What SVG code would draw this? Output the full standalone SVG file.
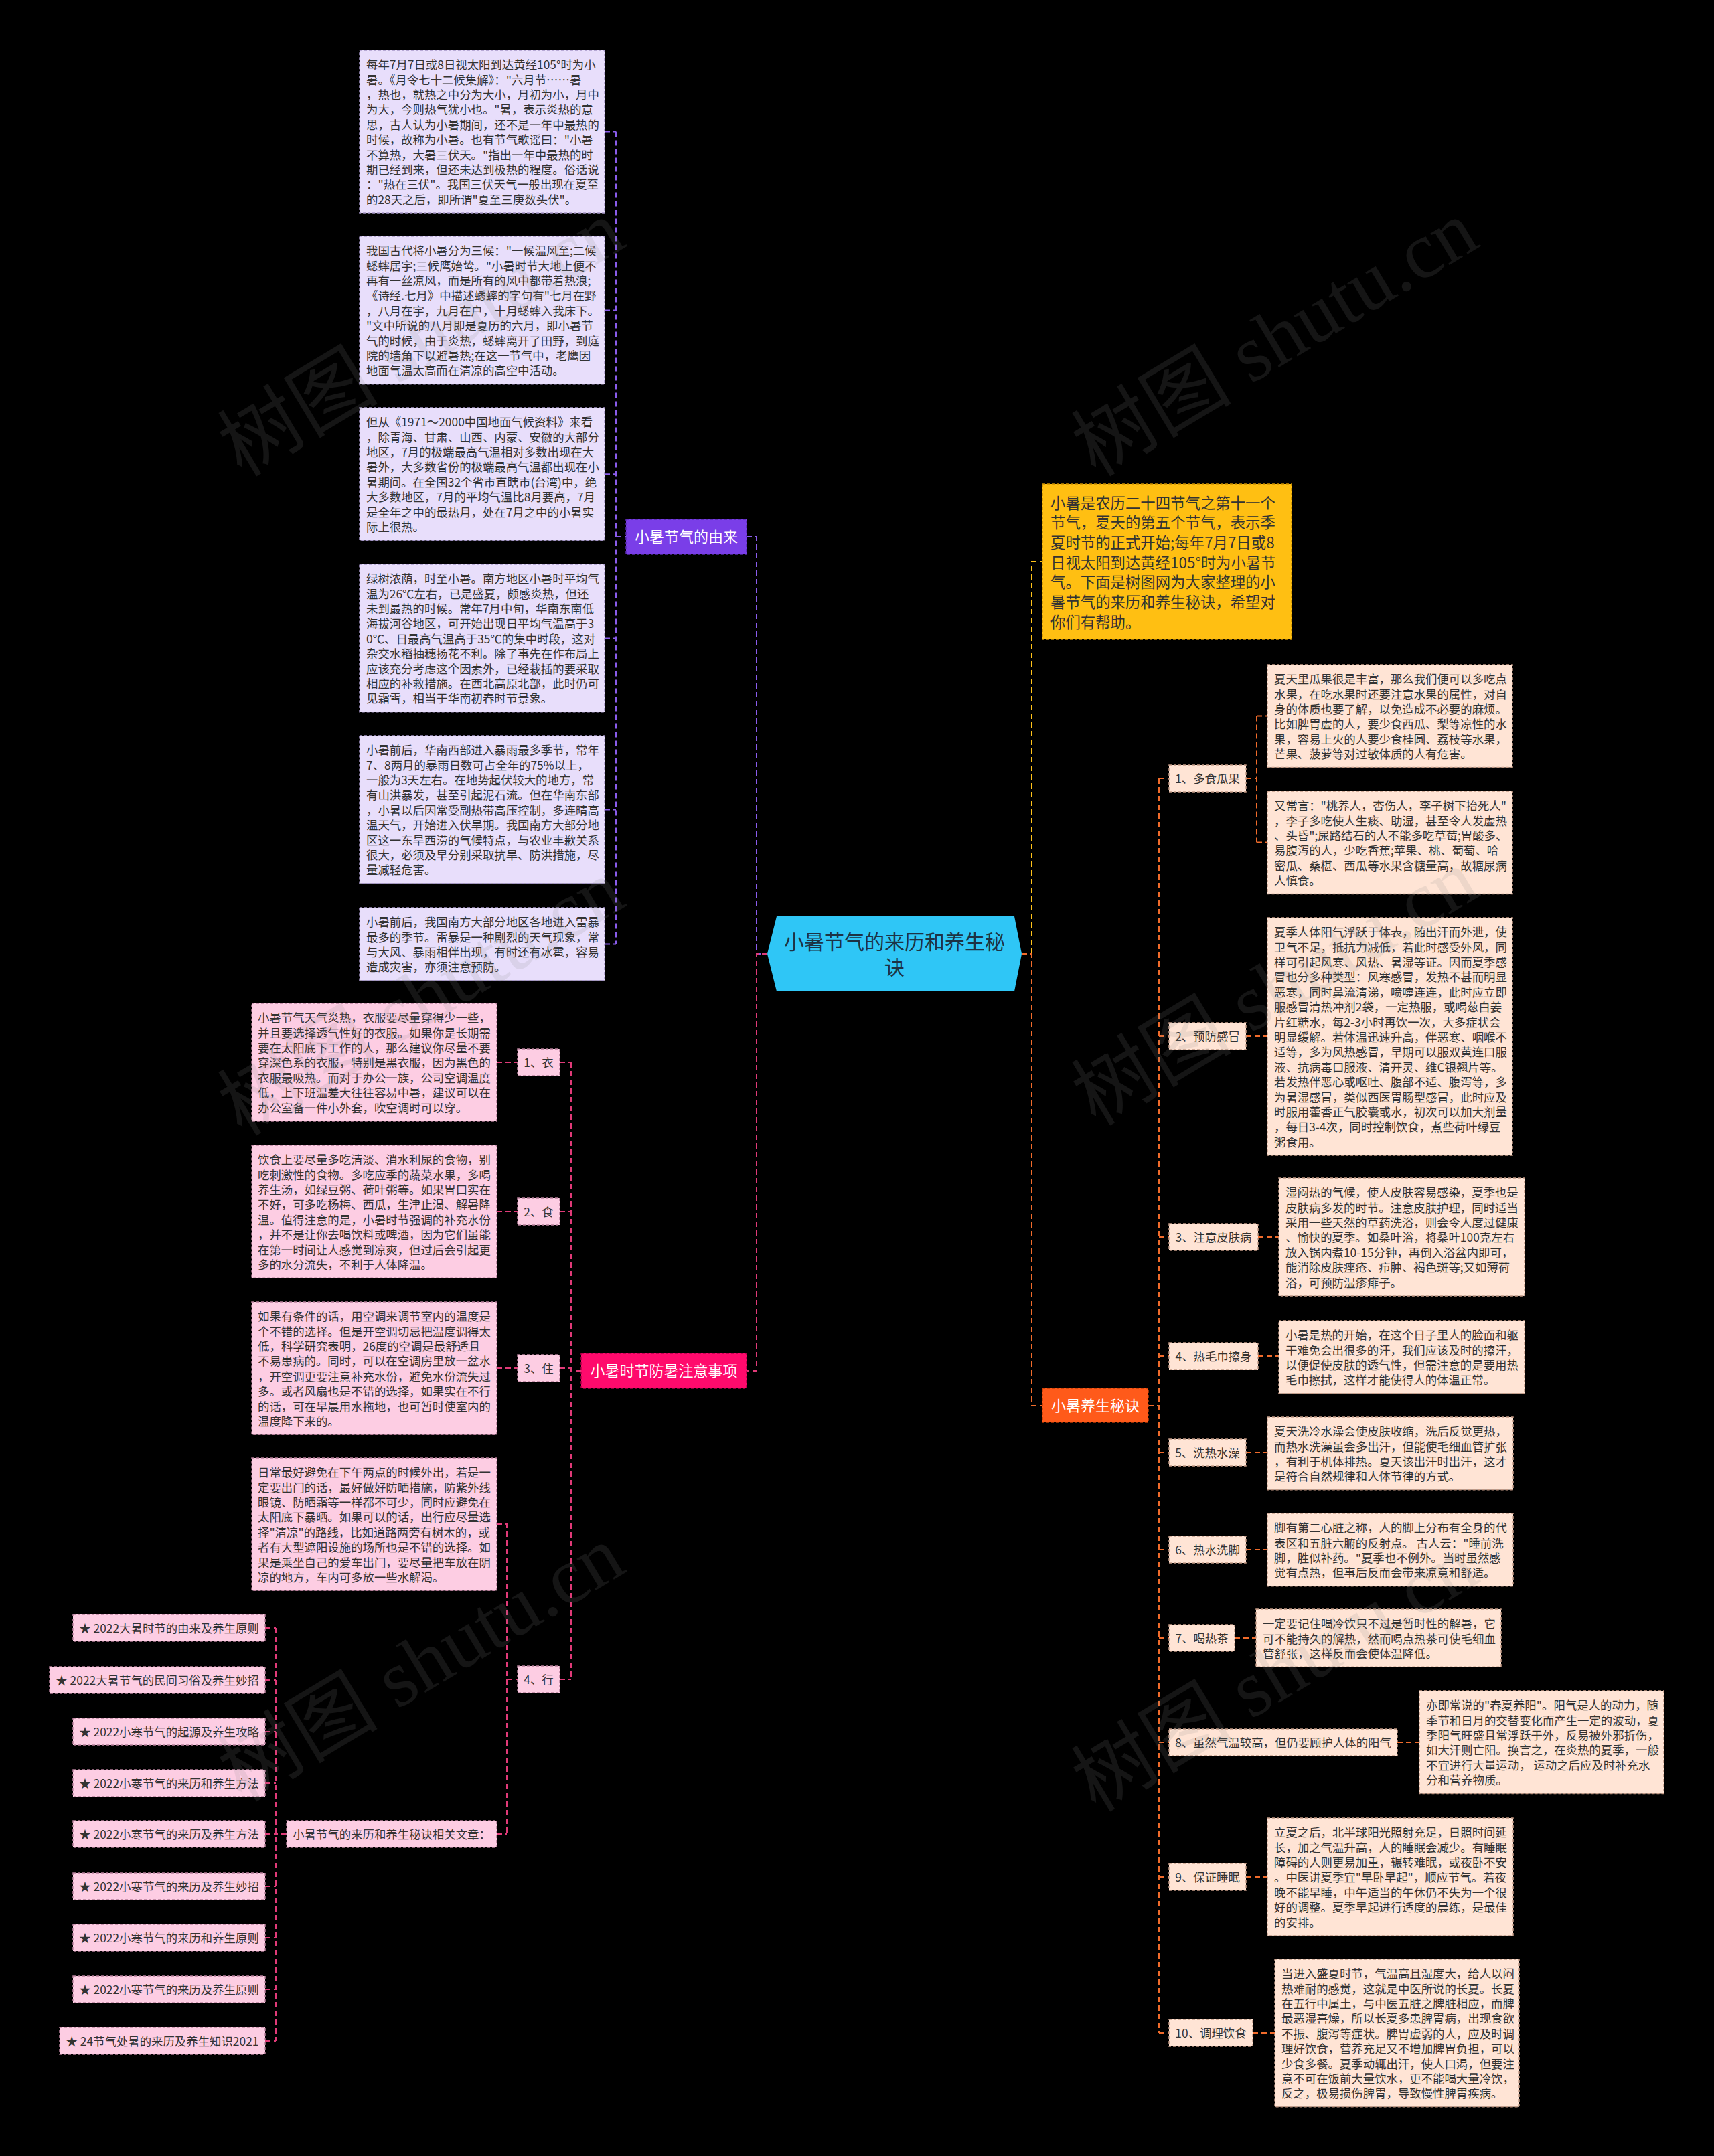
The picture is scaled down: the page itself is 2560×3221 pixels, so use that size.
<svg xmlns="http://www.w3.org/2000/svg" width="2560" height="3221" viewBox="0 0 2560 3221">
<style>
text{font-family:"Noto Sans CJK SC","Noto Sans",sans-serif}
.t{font-size:17.4px;fill:#333}
.it{font-size:17.4px;fill:#333;text-anchor:middle}
.lb{font-size:22px;fill:#fff;text-anchor:middle}
.pu{fill:#E8DEFB;stroke:#A596C8;stroke-width:1.5;stroke-dasharray:4 3}
.pk{fill:#FDCDE3;stroke:#B8809C;stroke-width:1.5;stroke-dasharray:4 3}
.pe{fill:#FFE4D5;stroke:#C49A86;stroke-width:1.5;stroke-dasharray:4 3}
.c{fill:none;stroke-width:2;stroke-dasharray:8 5}
.cp{stroke:#8A5CEB}.ck{stroke:#E03A78}.co{stroke:#F06B2B}.cy{stroke:#FFC21A}
.wm{font-family:"Liberation Serif","Noto Sans CJK SC",serif;font-size:120px;fill:#8a8a8a;opacity:.15;text-anchor:middle}
</style>
<rect width="2560" height="3221" fill="#000"/>

<g id="connectors">
<path class="c cp" d="M903 196.5H920M903 463.4H920M903 708.2H920M903 953.4H920M903 1209.4H920M903 1410.4H920M920 196.5V1410.4M920 802H935M1115 802H1130V1425H1146"/>
<path class="c ck" d="M1146 1425H1130V2048H1115M868 2048H853M853 1587V2509M836 1587H853M836 1810H853M836 2044H853M836 2509H853M742 1587H773M742 1810H773M742 2044H773M742 2277H757V2740M757 2509H773M742 2740H757M428 2740H412M412 2432V3049M396 2432H412M396 2510H412M396 2587H412M396 2664H412M396 2740H412M396 2818H412M396 2895H412M396 2972H412M396 3049H412"/>
<path class="c cy" d="M1541 1425V839H1557"/>
<path class="c co" d="M1526 1425H1541V2100H1557M1715 2100H1731M1731 1163V3037M1731 1163H1746M1731 1548H1746M1731 1848H1746M1731 2026H1746M1731 2170H1746M1731 2315H1746M1731 2447H1746M1731 2603H1746M1731 2804H1746M1731 3037H1746M1861 1163H1877M1877 1069.5V1258.5M1877 1069.5H1893M1877 1258.5H1893M1861 1548H1893M1879 1848H1910M1879 2026H1910M1861 2170H1893M1861 2315H1893M1844 2447H1876M2087 2603H2120M1861 2804H1893M1871 3037H1904"/>
</g>

<g id="center">
<polygon points="1146,1425 1160,1369 1515,1369 1526,1425 1515,1481 1160,1481" fill="#2FC6F6"/>
<text x="1336" y="1418" font-size="30" fill="#1d3344" text-anchor="middle">小暑节气的来历和养生秘</text>
<text x="1336" y="1456" font-size="30" fill="#1d3344" text-anchor="middle">诀</text>
</g>

<g id="origin-label">
<rect x="935" y="776" width="180" height="52" fill="#7A3EE8" stroke="#5a2cb0" stroke-width="1.5" stroke-dasharray="4 3"/>
<text class="lb" x="1025" y="810">小暑节气的由来</text>
</g>
<g id="o1"><rect class="pu" x="537" y="75" width="366" height="243.1"/>
<text class="t" x="547" y="103.1"><tspan x="547">每年7月7日或8日视太阳到达黄经105°时为小</tspan><tspan x="547" dy="22.4">暑。《月令七十二候集解》："六月节……暑</tspan><tspan x="547" dy="22.4">，热也，就热之中分为大小，月初为小，月中</tspan><tspan x="547" dy="22.4">为大，今则热气犹小也。"暑，表示炎热的意</tspan><tspan x="547" dy="22.4">思，古人认为小暑期间，还不是一年中最热的</tspan><tspan x="547" dy="22.4">时候，故称为小暑。也有节气歌谣曰："小暑</tspan><tspan x="547" dy="22.4">不算热，大暑三伏天。"指出一年中最热的时</tspan><tspan x="547" dy="22.4">期已经到来，但还未达到极热的程度。俗话说</tspan><tspan x="547" dy="22.4">："热在三伏"。我国三伏天气一般出现在夏至</tspan><tspan x="547" dy="22.4">的28天之后，即所谓"夏至三庚数头伏"。</tspan></text></g>
<g id="o2"><rect class="pu" x="537" y="353" width="366" height="220.7"/>
<text class="t" x="547" y="381.1"><tspan x="547">我国古代将小暑分为三候："一候温风至;二候</tspan><tspan x="547" dy="22.4">蟋蟀居宇;三候鹰始鸷。"小暑时节大地上便不</tspan><tspan x="547" dy="22.4">再有一丝凉风，而是所有的风中都带着热浪;</tspan><tspan x="547" dy="22.4">《诗经.七月》中描述蟋蟀的字句有"七月在野</tspan><tspan x="547" dy="22.4">，八月在宇，九月在户，十月蟋蟀入我床下。</tspan><tspan x="547" dy="22.4">"文中所说的八月即是夏历的六月，即小暑节</tspan><tspan x="547" dy="22.4">气的时候，由于炎热，蟋蟀离开了田野，到庭</tspan><tspan x="547" dy="22.4">院的墙角下以避暑热;在这一节气中，老鹰因</tspan><tspan x="547" dy="22.4">地面气温太高而在清凉的高空中活动。</tspan></text></g>
<g id="o3"><rect class="pu" x="537" y="609" width="366" height="198.3"/>
<text class="t" x="547" y="637.1"><tspan x="547">但从《1971～2000中国地面气候资料》来看</tspan><tspan x="547" dy="22.4">，除青海、甘肃、山西、内蒙、安徽的大部分</tspan><tspan x="547" dy="22.4">地区，7月的极端最高气温相对多数出现在大</tspan><tspan x="547" dy="22.4">暑外，大多数省份的极端最高气温都出现在小</tspan><tspan x="547" dy="22.4">暑期间。在全国32个省市直瞎市(台湾)中，绝</tspan><tspan x="547" dy="22.4">大多数地区，7月的平均气温比8月要高，7月</tspan><tspan x="547" dy="22.4">是全年之中的最热月，处在7月之中的小暑实</tspan><tspan x="547" dy="22.4">际上很热。</tspan></text></g>
<g id="o4"><rect class="pu" x="537" y="843" width="366" height="220.7"/>
<text class="t" x="547" y="871.1"><tspan x="547">绿树浓荫，时至小暑。南方地区小暑时平均气</tspan><tspan x="547" dy="22.4">温为26℃左右，已是盛夏，颇感炎热，但还</tspan><tspan x="547" dy="22.4">未到最热的时候。常年7月中旬，华南东南低</tspan><tspan x="547" dy="22.4">海拔河谷地区，可开始出现日平均气温高于3</tspan><tspan x="547" dy="22.4">0℃、日最高气温高于35℃的集中时段，这对</tspan><tspan x="547" dy="22.4">杂交水稻抽穗扬花不利。除了事先在作布局上</tspan><tspan x="547" dy="22.4">应该充分考虑这个因素外，已经栽插的要采取</tspan><tspan x="547" dy="22.4">相应的补救措施。在西北高原北部，此时仍可</tspan><tspan x="547" dy="22.4">见霜雪，相当于华南初春时节景象。</tspan></text></g>
<g id="o5"><rect class="pu" x="537" y="1099" width="366" height="220.7"/>
<text class="t" x="547" y="1127.1"><tspan x="547">小暑前后，华南西部进入暴雨最多季节，常年</tspan><tspan x="547" dy="22.4">7、8两月的暴雨日数可占全年的75%以上，</tspan><tspan x="547" dy="22.4">一般为3天左右。在地势起伏较大的地方，常</tspan><tspan x="547" dy="22.4">有山洪暴发，甚至引起泥石流。但在华南东部</tspan><tspan x="547" dy="22.4">，小暑以后因常受副热带高压控制，多连晴高</tspan><tspan x="547" dy="22.4">温天气，开始进入伏旱期。我国南方大部分地</tspan><tspan x="547" dy="22.4">区这一东旱西涝的气候特点，与农业丰歉关系</tspan><tspan x="547" dy="22.4">很大，必须及早分别采取抗旱、防洪措施，尽</tspan><tspan x="547" dy="22.4">量减轻危害。</tspan></text></g>
<g id="o6"><rect class="pu" x="537" y="1356" width="366" height="108.7"/>
<text class="t" x="547" y="1384.1"><tspan x="547">小暑前后，我国南方大部分地区各地进入雷暴</tspan><tspan x="547" dy="22.4">最多的季节。雷暴是一种剧烈的天气现象，常</tspan><tspan x="547" dy="22.4">与大风、暴雨相伴出现，有时还有冰雹，容易</tspan><tspan x="547" dy="22.4">造成灾害，亦须注意预防。</tspan></text></g>

<g id="notes-label">
<rect x="868" y="2022" width="247" height="52" fill="#FF0A6C" stroke="#b00048" stroke-width="1.5" stroke-dasharray="4 3"/>
<text class="lb" x="991.5" y="2056">小暑时节防暑注意事项</text>
</g>
<g id="n1"><rect class="pk" x="773" y="1567" width="63" height="40"/><text class="it" x="804.5" y="1593.6">1、衣</text></g>
<g id="n2"><rect class="pk" x="773" y="1790" width="63" height="40"/><text class="it" x="804.5" y="1816.6">2、食</text></g>
<g id="n3"><rect class="pk" x="773" y="2024" width="63" height="40"/><text class="it" x="804.5" y="2050.6">3、住</text></g>
<g id="n4"><rect class="pk" x="773" y="2489" width="63" height="40"/><text class="it" x="804.5" y="2515.6">4、行</text></g>
<g id="n1d"><rect class="pk" x="376" y="1499" width="366" height="175.9"/>
<text class="t" x="385" y="1527.1"><tspan x="385">小暑节气天气炎热，衣服要尽量穿得少一些，</tspan><tspan x="385" dy="22.4">并且要选择透气性好的衣服。如果你是长期需</tspan><tspan x="385" dy="22.4">要在太阳底下工作的人，那么建议你尽量不要</tspan><tspan x="385" dy="22.4">穿深色系的衣服，特别是黑衣服，因为黑色的</tspan><tspan x="385" dy="22.4">衣服最吸热。而对于办公一族，公司空调温度</tspan><tspan x="385" dy="22.4">低，上下班温差大往往容易中暑，建议可以在</tspan><tspan x="385" dy="22.4">办公室备一件小外套，吹空调时可以穿。</tspan></text></g>
<g id="n2d"><rect class="pk" x="376" y="1711" width="366" height="198.3"/>
<text class="t" x="385" y="1739.1"><tspan x="385">饮食上要尽量多吃清淡、消水利尿的食物，别</tspan><tspan x="385" dy="22.4">吃刺激性的食物。多吃应季的蔬菜水果，多喝</tspan><tspan x="385" dy="22.4">养生汤，如绿豆粥、荷叶粥等。如果胃口实在</tspan><tspan x="385" dy="22.4">不好，可多吃杨梅、西瓜，生津止渴、解暑降</tspan><tspan x="385" dy="22.4">温。值得注意的是，小暑时节强调的补充水份</tspan><tspan x="385" dy="22.4">，并不是让你去喝饮料或啤酒，因为它们虽能</tspan><tspan x="385" dy="22.4">在第一时间让人感觉到凉爽，但过后会引起更</tspan><tspan x="385" dy="22.4">多的水分流失，不利于人体降温。</tspan></text></g>
<g id="n3d"><rect class="pk" x="376" y="1945" width="366" height="198.3"/>
<text class="t" x="385" y="1973.1"><tspan x="385">如果有条件的话，用空调来调节室内的温度是</tspan><tspan x="385" dy="22.4">个不错的选择。但是开空调切忌把温度调得太</tspan><tspan x="385" dy="22.4">低，科学研究表明，26度的空调是最舒适且</tspan><tspan x="385" dy="22.4">不易患病的。同时，可以在空调房里放一盆水</tspan><tspan x="385" dy="22.4">，开空调更要注意补充水份，避免水份流失过</tspan><tspan x="385" dy="22.4">多。或者风扇也是不错的选择，如果实在不行</tspan><tspan x="385" dy="22.4">的话，可在早晨用水拖地，也可暂时使室内的</tspan><tspan x="385" dy="22.4">温度降下来的。</tspan></text></g>
<g id="n4d"><rect class="pk" x="376" y="2178" width="366" height="198.3"/>
<text class="t" x="385" y="2206.1"><tspan x="385">日常最好避免在下午两点的时候外出，若是一</tspan><tspan x="385" dy="22.4">定要出门的话，最好做好防晒措施，防紫外线</tspan><tspan x="385" dy="22.4">眼镜、防晒霜等一样都不可少，同时应避免在</tspan><tspan x="385" dy="22.4">太阳底下暴晒。如果可以的话，出行应尽量选</tspan><tspan x="385" dy="22.4">择"清凉"的路线，比如道路两旁有树木的，或</tspan><tspan x="385" dy="22.4">者有大型遮阳设施的场所也是不错的选择。如</tspan><tspan x="385" dy="22.4">果是乘坐自己的爱车出门，要尽量把车放在阴</tspan><tspan x="385" dy="22.4">凉的地方，车内可多放一些水解渴。</tspan></text></g>
<g id="related"><rect class="pk" x="428" y="2720" width="314" height="40"/><text class="it" x="585" y="2746.6">小暑节气的来历和养生秘诀相关文章：</text></g>
<g id="l1"><rect class="pk" x="109" y="2412" width="287" height="40"/><text class="it" x="252.5" y="2438.6">★ 2022大暑时节的由来及养生原则</text></g>
<g id="l2"><rect class="pk" x="74" y="2490" width="322" height="40"/><text class="it" x="235" y="2516.6">★ 2022大暑节气的民间习俗及养生妙招</text></g>
<g id="l3"><rect class="pk" x="109" y="2567" width="287" height="40"/><text class="it" x="252.5" y="2593.6">★ 2022小寒节气的起源及养生攻略</text></g>
<g id="l4"><rect class="pk" x="109" y="2644" width="287" height="40"/><text class="it" x="252.5" y="2670.6">★ 2022小寒节气的来历和养生方法</text></g>
<g id="l5"><rect class="pk" x="109" y="2720" width="287" height="40"/><text class="it" x="252.5" y="2746.6">★ 2022小寒节气的来历及养生方法</text></g>
<g id="l6"><rect class="pk" x="109" y="2798" width="287" height="40"/><text class="it" x="252.5" y="2824.6">★ 2022小寒节气的来历及养生妙招</text></g>
<g id="l7"><rect class="pk" x="109" y="2875" width="287" height="40"/><text class="it" x="252.5" y="2901.6">★ 2022小寒节气的来历和养生原则</text></g>
<g id="l8"><rect class="pk" x="109" y="2952" width="287" height="40"/><text class="it" x="252.5" y="2978.6">★ 2022小寒节气的来历及养生原则</text></g>
<g id="l9"><rect class="pk" x="89" y="3029" width="307" height="40"/><text class="it" x="242.5" y="3055.6">★ 24节气处暑的来历及养生知识2021</text></g>

<g id="intro"><rect x="1557" y="723" width="372" height="232" fill="#FFBF12" stroke="#c98f00" stroke-width="1.5" stroke-dasharray="4 3"/>
<text x="1569" y="759.5" font-size="22.4" fill="#333"><tspan x="1569">小暑是农历二十四节气之第十一个</tspan><tspan x="1569" dy="29.7">节气，夏天的第五个节气，表示季</tspan><tspan x="1569" dy="29.7">夏时节的正式开始;每年7月7日或8</tspan><tspan x="1569" dy="29.7">日视太阳到达黄经105°时为小暑节</tspan><tspan x="1569" dy="29.7">气。下面是树图网为大家整理的小</tspan><tspan x="1569" dy="29.7">暑节气的来历和养生秘诀，希望对</tspan><tspan x="1569" dy="29.7">你们有帮助。</tspan></text></g>

<g id="tips-label">
<rect x="1557" y="2074" width="158" height="51" fill="#FF5A1A" stroke="#c23d05" stroke-width="1.5" stroke-dasharray="4 3"/>
<text class="lb" x="1636" y="2108">小暑养生秘诀</text>
</g>
<g id="t1"><rect class="pe" x="1746" y="1143" width="115" height="40"/><text class="it" x="1803.5" y="1169.6">1、多食瓜果</text></g>
<g id="t2"><rect class="pe" x="1746" y="1528" width="115" height="40"/><text class="it" x="1803.5" y="1554.6">2、预防感冒</text></g>
<g id="t3"><rect class="pe" x="1746" y="1828" width="133" height="40"/><text class="it" x="1812.5" y="1854.6">3、注意皮肤病</text></g>
<g id="t4"><rect class="pe" x="1746" y="2006" width="133" height="40"/><text class="it" x="1812.5" y="2032.6">4、热毛巾擦身</text></g>
<g id="t5"><rect class="pe" x="1746" y="2150" width="115" height="40"/><text class="it" x="1803.5" y="2176.6">5、洗热水澡</text></g>
<g id="t6"><rect class="pe" x="1746" y="2295" width="115" height="40"/><text class="it" x="1803.5" y="2321.6">6、热水洗脚</text></g>
<g id="t7"><rect class="pe" x="1746" y="2427" width="98" height="40"/><text class="it" x="1795" y="2453.6">7、喝热茶</text></g>
<g id="t8"><rect class="pe" x="1746" y="2583" width="341" height="40"/><text class="it" x="1916.5" y="2609.6">8、虽然气温较高，但仍要顾护人体的阳气</text></g>
<g id="t9"><rect class="pe" x="1746" y="2784" width="115" height="40"/><text class="it" x="1803.5" y="2810.6">9、保证睡眠</text></g>
<g id="t10"><rect class="pe" x="1746" y="3017" width="125" height="40"/><text class="it" x="1808.5" y="3043.6">10、调理饮食</text></g>

<g id="t1a"><rect class="pe" x="1893" y="993" width="366" height="153.5"/>
<text class="t" x="1903" y="1021.1"><tspan x="1903">夏天里瓜果很是丰富，那么我们便可以多吃点</tspan><tspan x="1903" dy="22.4">水果，在吃水果时还要注意水果的属性，对自</tspan><tspan x="1903" dy="22.4">身的体质也要了解，以免造成不必要的麻烦。</tspan><tspan x="1903" dy="22.4">比如脾胃虚的人，要少食西瓜、梨等凉性的水</tspan><tspan x="1903" dy="22.4">果，容易上火的人要少食桂圆、荔枝等水果，</tspan><tspan x="1903" dy="22.4">芒果、菠萝等对过敏体质的人有危害。</tspan></text></g>
<g id="t1b"><rect class="pe" x="1893" y="1182" width="366" height="153.5"/>
<text class="t" x="1903" y="1210.1"><tspan x="1903">又常言："桃养人，杏伤人，李子树下抬死人"</tspan><tspan x="1903" dy="22.4">，李子多吃使人生痰、助湿，甚至令人发虚热</tspan><tspan x="1903" dy="22.4">、头昏";尿路结石的人不能多吃草莓;胃酸多、</tspan><tspan x="1903" dy="22.4">易腹泻的人，少吃香蕉;苹果、桃、葡萄、哈</tspan><tspan x="1903" dy="22.4">密瓜、桑椹、西瓜等水果含糖量高，故糖尿病</tspan><tspan x="1903" dy="22.4">人慎食。</tspan></text></g>
<g id="t2d"><rect class="pe" x="1893" y="1371" width="366" height="355.1"/>
<text class="t" x="1903" y="1399.1"><tspan x="1903">夏季人体阳气浮跃于体表，随出汗而外泄，使</tspan><tspan x="1903" dy="22.4">卫气不足，抵抗力减低，若此时感受外风，同</tspan><tspan x="1903" dy="22.4">样可引起风寒、风热、暑湿等证。因而夏季感</tspan><tspan x="1903" dy="22.4">冒也分多种类型：风寒感冒，发热不甚而明显</tspan><tspan x="1903" dy="22.4">恶寒，同时鼻流清涕，喷嚏连连，此时应立即</tspan><tspan x="1903" dy="22.4">服感冒清热冲剂2袋，一定热服，或喝葱白姜</tspan><tspan x="1903" dy="22.4">片红糖水，每2-3小时再饮一次，大多症状会</tspan><tspan x="1903" dy="22.4">明显缓解。若体温迅速升高，伴恶寒、咽喉不</tspan><tspan x="1903" dy="22.4">适等，多为风热感冒，早期可以服双黄连口服</tspan><tspan x="1903" dy="22.4">液、抗病毒口服液、清开灵、维C银翘片等。</tspan><tspan x="1903" dy="22.4">若发热伴恶心或呕吐、腹部不适、腹泻等，多</tspan><tspan x="1903" dy="22.4">为暑湿感冒，类似西医胃肠型感冒，此时应及</tspan><tspan x="1903" dy="22.4">时服用藿香正气胶囊或水，初次可以加大剂量</tspan><tspan x="1903" dy="22.4">，每日3-4次，同时控制饮食，煮些荷叶绿豆</tspan><tspan x="1903" dy="22.4">粥食用。</tspan></text></g>
<g id="t3d"><rect class="pe" x="1910" y="1760" width="367" height="175.9"/>
<text class="t" x="1920" y="1788.1"><tspan x="1920">湿闷热的气候，使人皮肤容易感染，夏季也是</tspan><tspan x="1920" dy="22.4">皮肤病多发的时节。注意皮肤护理，同时适当</tspan><tspan x="1920" dy="22.4">采用一些天然的草药洗浴，则会令人度过健康</tspan><tspan x="1920" dy="22.4">、愉快的夏季。如桑叶浴，将桑叶100克左右</tspan><tspan x="1920" dy="22.4">放入锅内煮10-15分钟，再倒入浴盆内即可，</tspan><tspan x="1920" dy="22.4">能消除皮肤痤疮、疖肿、褐色斑等;又如薄荷</tspan><tspan x="1920" dy="22.4">浴，可预防湿疹痱子。</tspan></text></g>
<g id="t4d"><rect class="pe" x="1910" y="1973" width="367" height="108.7"/>
<text class="t" x="1920" y="2001.1"><tspan x="1920">小暑是热的开始，在这个日子里人的脸面和躯</tspan><tspan x="1920" dy="22.4">干难免会出很多的汗，我们应该及时的擦汗，</tspan><tspan x="1920" dy="22.4">以便促使皮肤的透气性，但需注意的是要用热</tspan><tspan x="1920" dy="22.4">毛巾擦拭，这样才能使得人的体温正常。</tspan></text></g>
<g id="t5d"><rect class="pe" x="1893" y="2117" width="367" height="108.7"/>
<text class="t" x="1903" y="2145.1"><tspan x="1903">夏天洗冷水澡会使皮肤收缩，洗后反觉更热，</tspan><tspan x="1903" dy="22.4">而热水洗澡虽会多出汗，但能使毛细血管扩张</tspan><tspan x="1903" dy="22.4">，有利于机体排热。夏天该出汗时出汗，这才</tspan><tspan x="1903" dy="22.4">是符合自然规律和人体节律的方式。</tspan></text></g>
<g id="t6d"><rect class="pe" x="1893" y="2261" width="367" height="108.7"/>
<text class="t" x="1903" y="2289.1"><tspan x="1903">脚有第二心脏之称，人的脚上分布有全身的代</tspan><tspan x="1903" dy="22.4">表区和五脏六腑的反射点。 古人云："睡前洗</tspan><tspan x="1903" dy="22.4">脚，胜似补药。"夏季也不例外。当时虽然感</tspan><tspan x="1903" dy="22.4">觉有点热，但事后反而会带来凉意和舒适。</tspan></text></g>
<g id="t7d"><rect class="pe" x="1876" y="2404" width="366" height="86.3"/>
<text class="t" x="1886" y="2432.1"><tspan x="1886">一定要记住喝冷饮只不过是暂时性的解暑，它</tspan><tspan x="1886" dy="22.4">可不能持久的解热，然而喝点热茶可使毛细血</tspan><tspan x="1886" dy="22.4">管舒张，这样反而会使体温降低。</tspan></text></g>
<g id="t8d"><rect class="pe" x="2120" y="2526" width="365" height="153.5"/>
<text class="t" x="2130" y="2554.1"><tspan x="2130">亦即常说的"春夏养阳"。阳气是人的动力，随</tspan><tspan x="2130" dy="22.4">季节和日月的交替变化而产生一定的波动，夏</tspan><tspan x="2130" dy="22.4">季阳气旺盛且常浮跃于外，反易被外邪折伤，</tspan><tspan x="2130" dy="22.4">如大汗则亡阳。换言之，在炎热的夏季，一般</tspan><tspan x="2130" dy="22.4">不宜进行大量运动， 运动之后应及时补充水</tspan><tspan x="2130" dy="22.4">分和营养物质。</tspan></text></g>
<g id="t9d"><rect class="pe" x="1893" y="2716" width="367" height="175.9"/>
<text class="t" x="1903" y="2744.1"><tspan x="1903">立夏之后，北半球阳光照射充足，日照时间延</tspan><tspan x="1903" dy="22.4">长，加之气温升高，人的睡眠会减少。有睡眠</tspan><tspan x="1903" dy="22.4">障碍的人则更易加重，辗转难眠，或夜卧不安</tspan><tspan x="1903" dy="22.4">。中医讲夏季宜"早卧早起"，顺应节气。若夜</tspan><tspan x="1903" dy="22.4">晚不能早睡，中午适当的午休仍不失为一个很</tspan><tspan x="1903" dy="22.4">好的调整。夏季早起进行适度的晨练，是最佳</tspan><tspan x="1903" dy="22.4">的安排。</tspan></text></g>
<g id="t10d"><rect class="pe" x="1904" y="2927" width="365" height="220.7"/>
<text class="t" x="1914" y="2955.1"><tspan x="1914">当进入盛夏时节，气温高且湿度大，给人以闷</tspan><tspan x="1914" dy="22.4">热难耐的感觉，这就是中医所说的长夏。长夏</tspan><tspan x="1914" dy="22.4">在五行中属土，与中医五脏之脾脏相应，而脾</tspan><tspan x="1914" dy="22.4">最恶湿喜燥，所以长夏多患脾胃病，出现食欲</tspan><tspan x="1914" dy="22.4">不振、腹泻等症状。脾胃虚弱的人，应及时调</tspan><tspan x="1914" dy="22.4">理好饮食，营养充足又不增加脾胃负担，可以</tspan><tspan x="1914" dy="22.4">少食多餐。夏季动辄出汗，使人口渴，但要注</tspan><tspan x="1914" dy="22.4">意不可在饭前大量饮水，更不能喝大量冷饮，</tspan><tspan x="1914" dy="22.4">反之，极易损伤脾胃，导致慢性脾胃疾病。</tspan></text></g>

<g id="watermarks">
<text class="wm" transform="translate(650,540) rotate(-31)">树图 shutu.cn</text>
<text class="wm" transform="translate(1925,540) rotate(-31)">树图 shutu.cn</text>
<text class="wm" transform="translate(650,1525) rotate(-31)">树图 shutu.cn</text>
<text class="wm" transform="translate(1925,1510) rotate(-31)">树图 shutu.cn</text>
<text class="wm" transform="translate(650,2520) rotate(-31)">树图 shutu.cn</text>
<text class="wm" transform="translate(1925,2535) rotate(-31)">树图 shutu.cn</text>
</g>
</svg>
